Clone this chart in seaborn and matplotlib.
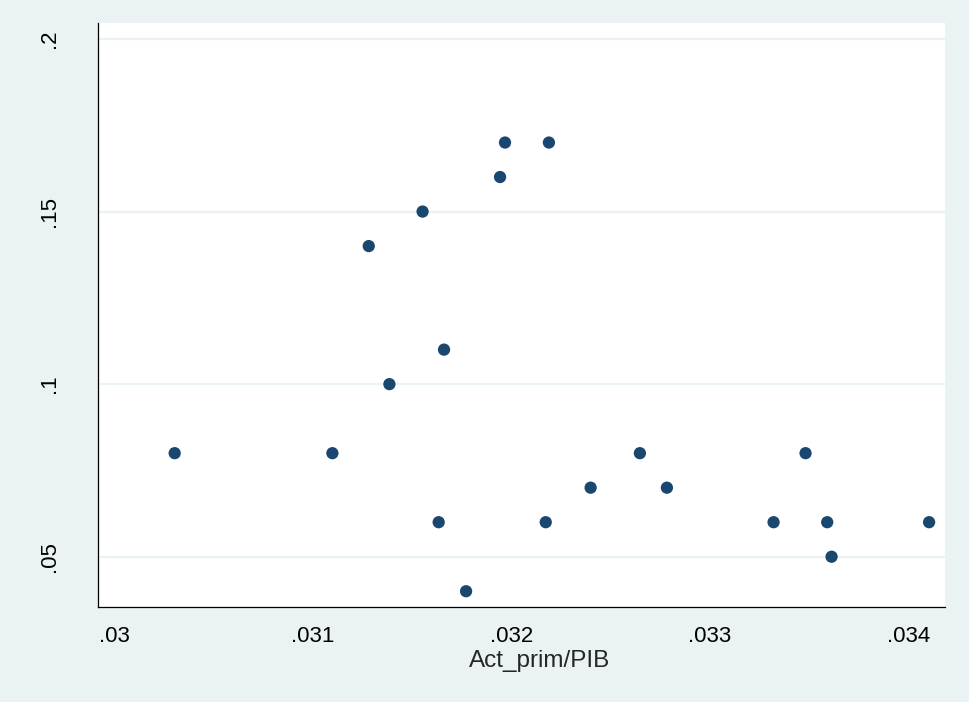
import numpy as np
import pandas as pd
import matplotlib
matplotlib.use("Agg")
import matplotlib.pyplot as plt
import seaborn as sns

# Primary-sector activity share of GDP vs. outcome rate
act_prim_pib = [0.030305, 0.031099, 0.031282, 0.031386, 0.031553, 0.031634,
                0.031661, 0.031772, 0.031943, 0.031968, 0.032173, 0.032189,
                0.032399, 0.032647, 0.032783, 0.033320, 0.033481, 0.033590,
                0.033612, 0.034103]
rate = [0.08, 0.08, 0.14, 0.10, 0.15, 0.06,
        0.11, 0.04, 0.16, 0.17, 0.06, 0.17,
        0.07, 0.08, 0.07, 0.06, 0.08, 0.06,
        0.05, 0.06]

x_ticks = [0.030, 0.031, 0.032, 0.033, 0.034]
x_tick_labels = [".03", ".031", ".032", ".033", ".034"]
y_ticks = [0.05, 0.10, 0.15, 0.20]
y_tick_labels = [".05", ".1", ".15", ".2"]

df = pd.DataFrame({"Act_prim/PIB": act_prim_pib, "rate": rate})

sns.set_style("white")
plt.rcParams["font.family"] = ["Liberation Sans", "DejaVu Sans"]

bg = "#EAF2F3"
navy = "#1A476F"

fig = plt.figure(figsize=(9.70, 7.02), dpi=100, facecolor=bg)
ax = fig.add_axes([98 / 970, 1 - 606.7 / 702, (945 - 98) / 970, (606.7 - 23) / 702])
ax.set_facecolor("white")

sns.scatterplot(data=df, x="Act_prim/PIB", y="rate", ax=ax, color=navy,
                s=78, edgecolor="none", linewidth=0, zorder=3)

ax.set_xlim(0.029919, 0.034183)
ax.set_ylim(0.03552, 0.20463)

ax.set_xticks(x_ticks)
ax.set_xticklabels(x_tick_labels, fontsize=16)
ax.set_yticks(y_ticks)
ax.set_yticklabels(y_tick_labels, fontsize=16, rotation=90, va="center")

ax.tick_params(axis="both", direction="out", length=7, width=0.8,
               color="#222222", labelcolor="black")
ax.tick_params(axis="x", pad=7)
ax.tick_params(axis="y", pad=20)

for y in y_ticks:
    ax.axhline(y, color=bg, linewidth=1.6, zorder=1)

for side in ["top", "right"]:
    ax.spines[side].set_visible(False)
for side in ["left", "bottom"]:
    ax.spines[side].set_color("black")
    ax.spines[side].set_linewidth(0.9)

ax.set_ylabel("")
ax.set_xlabel("Act_prim/PIB", fontsize=17.5, va="baseline")
ax.xaxis.set_label_coords(0.5215, -(667.3 - 606.7) / 583.7)

fig.savefig("out.png", dpi=100, facecolor=bg)
